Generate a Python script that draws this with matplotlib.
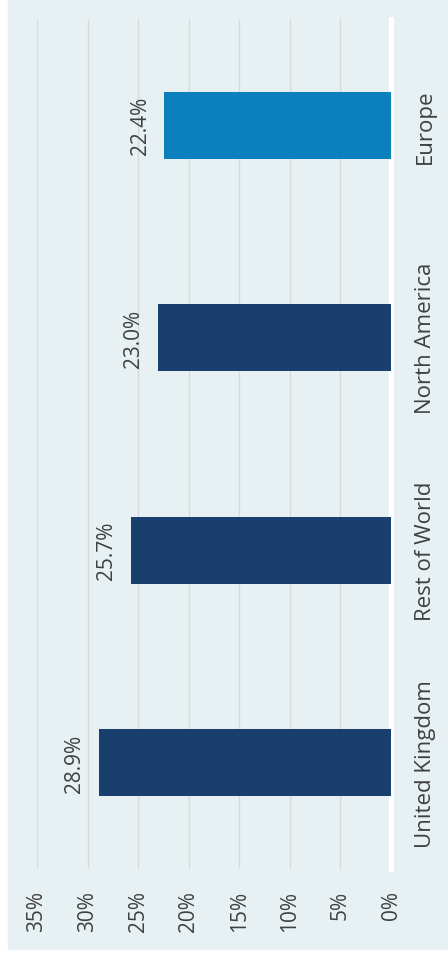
import matplotlib.pyplot as plt
from matplotlib.patches import Rectangle

# data (bottom to top in the rotated chart)
regions = ['United Kingdom', 'Rest of World', 'North America', 'Europe']
shares = [28.9, 25.7, 23.0, 22.4]
bar_colors = ['#193f6e', '#193f6e', '#193f6e', '#0c7fbd']
ticks = [0, 5, 10, 15, 20, 25, 30, 35]

plt.rcParams['font.family'] = ['Open Sans', 'DejaVu Sans']
text_color = '#404040'

fig = plt.figure(figsize=(4.48, 9.62), dpi=100, facecolor='white')
# panel background
fig.patches.append(Rectangle((8 / 448, 12 / 962), 440 / 448, 950 / 962,
                             transform=fig.transFigure, color='#e7f0f3', zorder=-10))

ax = fig.add_axes([37 / 448, 92 / 962, 354 / 448, 850 / 962])
ax.set_zorder(5)
ax.set_facecolor('none')

ax.barh(range(len(regions)), shares, height=0.313, color=bar_colors, zorder=3)
ax.set_xlim(35, 0)
ax.set_ylim(-0.5, len(regions) - 0.5)

# gridlines
for t in ticks[1:]:
    ax.axvline(t, color='#d9d9d9', lw=1.0, zorder=1)
ax.axvline(0, color='white', lw=3.6, zorder=2, clip_on=False)

for s in ax.spines.values():
    s.set_visible(False)

ax.set_xticks(ticks)
ax.set_xticklabels([f'{t}%' for t in ticks], rotation=90, fontsize=15,
                   color=text_color, va='top', ha='center')
ax.tick_params(axis='x', length=0, pad=15)

ax.yaxis.tick_right()
ax.set_yticks(range(len(regions)))
ax.set_yticklabels(regions, rotation=90, fontsize=16, color=text_color,
                   va='center', ha='left')
ax.tick_params(axis='y', length=0, pad=17)

for i, v in enumerate(shares):
    ax.annotate(f'{v:.1f}%', (v, i), xytext=(-10, 0), textcoords='offset points',
                rotation=90, ha='right', va='center', fontsize=15, color=text_color)

plt.savefig('out.png', dpi=100)
